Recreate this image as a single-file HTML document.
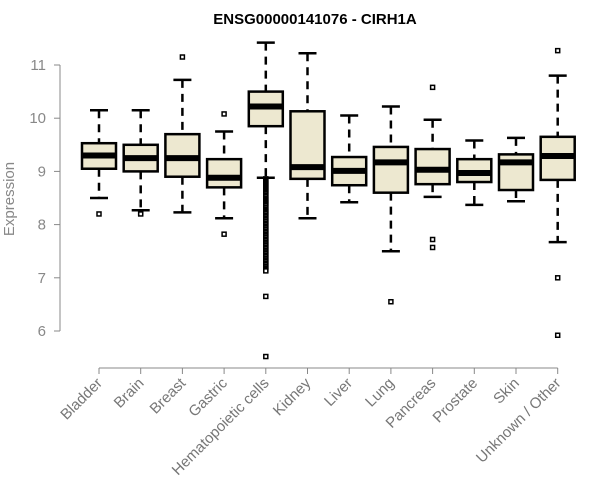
<!DOCTYPE html>
<html><head><meta charset="utf-8"><style>
body{margin:0;background:#fff;}
svg{display:block;font-family:"Liberation Sans",sans-serif;}
</style></head><body>
<svg id="chart" width="600" height="500" viewBox="0 0 600 500"></svg>
<script>
const categories=["Bladder","Brain","Breast","Gastric","Hematopoietic cells","Kidney","Liver","Lung","Pancreas","Prostate","Skin","Unknown / Other"];
const whiskerLow=[8.5,8.27,8.23,8.12,8.88,8.12,8.42,7.5,8.52,8.37,8.44,7.67];
const q1=[9.05,9.0,8.9,8.7,9.85,8.86,8.74,8.6,8.76,8.8,8.65,8.84];
const medians=[9.3,9.25,9.25,8.88,10.22,9.08,9.01,9.17,9.03,8.97,9.17,9.29];
const q3=[9.53,9.5,9.7,9.23,10.5,10.13,9.27,9.46,9.42,9.23,9.32,9.65];
const whiskerHigh=[10.15,10.15,10.72,9.75,11.42,11.22,10.05,10.22,9.97,9.58,9.63,10.8];
const outliers=[[8.2],[8.22,8.2],[11.15],[10.08,7.82],
 [8.86,8.84,8.82,8.8,8.78,8.76,8.74,8.72,8.7,8.68,8.66,8.64,8.62,8.6,8.58,8.55,8.53,8.5,8.48,8.46,8.44,8.42,8.4,8.38,8.36,8.33,8.31,8.28,8.26,8.24,8.22,8.2,8.17,8.15,8.12,8.1,8.07,8.05,8.02,8.0,7.97,7.95,7.92,7.9,7.87,7.85,7.82,7.8,7.77,7.75,7.72,7.7,7.67,7.65,7.62,7.6,7.57,7.55,7.52,7.5,7.47,7.45,7.42,7.4,7.37,7.35,7.32,7.3,7.27,7.25,7.22,7.2,7.17,7.15,7.13,6.65,5.52],
 [],[],[6.55],[10.58,7.72,7.57],[],[],[11.27,7.0,5.92]];
const yTicks=[6,7,8,9,10,11];
const NS="http://www.w3.org/2000/svg";
const svg=document.getElementById('chart');
const y=v=>65+(11-v)*53.2;
const x=i=>99+i*41.7;
function mk(t,a,parent){const e=document.createElementNS(NS,t);for(const k in a)e.setAttribute(k,a[k]);(parent||svg).appendChild(e);return e;}
let t=mk('text',{x:315,y:24,'text-anchor':'middle','font-size':15,'font-weight':'bold',fill:'#000'});


t.textContent="ENSG00000141076 - CIRH1A";
t=mk('text',{x:0,y:0,'text-anchor':'middle','font-size':15,fill:'#888',transform:'translate(14,199) rotate(-90)'});


t.textContent="Expression";
let ax=mk('line',{x1:60,x2:60,y1:y(11),y2:y(6),stroke:'#888','stroke-width':1});


yTicks.forEach(v=>{
 mk('line',{x1:54,x2:60,y1:y(v),y2:y(v),stroke:'#888'});
 const l=mk('text',{x:46,y:y(v)+5,'text-anchor':'end','font-size':15,fill:'#888'});
 
 
 l.textContent=v;
});
ax=mk('line',{x1:x(0),x2:x(11),y1:368,y2:368,stroke:'#888'});


categories.forEach((c,i)=>{
 const cx=x(i);
 mk('line',{x1:cx,x2:cx,y1:368,y2:374,stroke:'#888'});
 const l=mk('text',{x:0,y:0,'text-anchor':'end','font-size':15,fill:'#777',transform:`translate(${cx+4},${384}) rotate(-45)`});
 
 
 l.textContent=c;
 const g=mk('g',{});
 
 
 mk('line',{x1:cx,x2:cx,y1:y(whiskerHigh[i]),y2:y(q3[i]),stroke:'#000','stroke-width':2.5,'stroke-dasharray':'8,6'},g);
 mk('line',{x1:cx,x2:cx,y1:y(q1[i]),y2:y(whiskerLow[i]),stroke:'#000','stroke-width':2.5,'stroke-dasharray':'8,6'},g);
 mk('line',{x1:cx-9,x2:cx+9,y1:y(whiskerHigh[i]),y2:y(whiskerHigh[i]),stroke:'#000','stroke-width':2.5},g);
 mk('line',{x1:cx-9,x2:cx+9,y1:y(whiskerLow[i]),y2:y(whiskerLow[i]),stroke:'#000','stroke-width':2.5},g);
 mk('rect',{x:cx-17,y:y(q3[i]),width:34,height:y(q1[i])-y(q3[i]),fill:'#ede8d0',stroke:'#000','stroke-width':2.5},g);
 mk('line',{x1:cx-17,x2:cx+17,y1:y(medians[i]),y2:y(medians[i]),stroke:'#000','stroke-width':6},g);
 outliers[i].forEach(o=>{
  const p=mk('rect',{x:cx-2,y:y(o)-2,width:4,height:4,fill:'#fff',stroke:'#000','stroke-width':1.5},g);
  
  
 });
});
</script>
</body></html>
